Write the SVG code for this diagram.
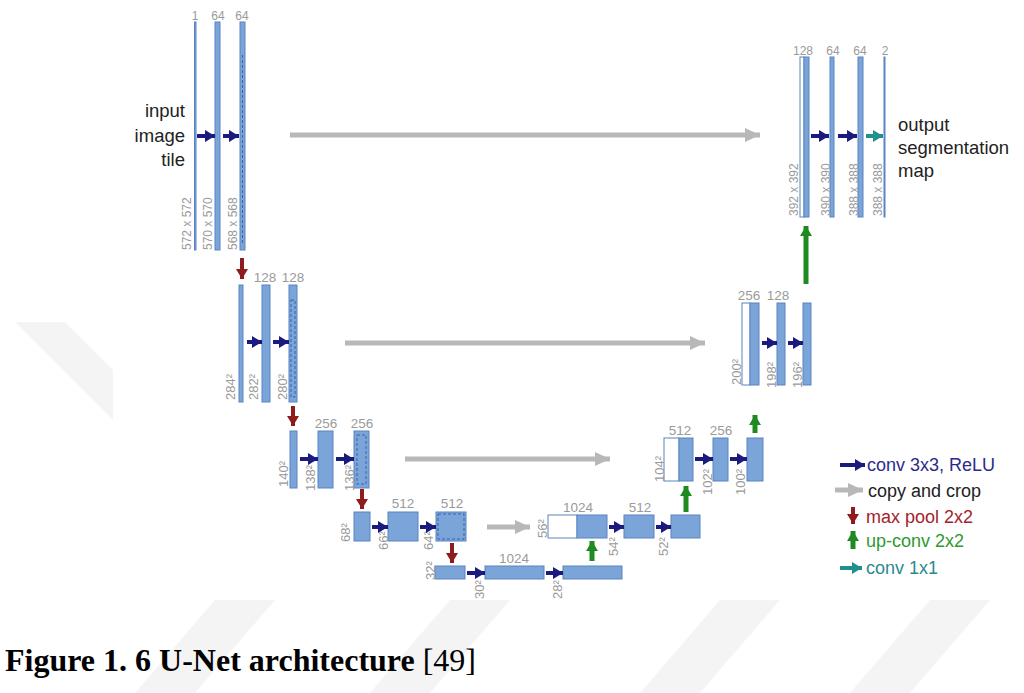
<svg xmlns="http://www.w3.org/2000/svg" width="1024" height="693" viewBox="0 0 1024 693">
<style>
.bar{fill:#7ba4d8;stroke:#5a84c2;stroke-width:1}
.wbox{fill:#ffffff;stroke:#5a84c2;stroke-width:1}
.dot{fill:none;stroke:#3a62a6;stroke-width:1;stroke-dasharray:3 2}
.num{font-family:"Liberation Sans",Arial,sans-serif;font-size:13.5px;fill:#9a9a9a;text-anchor:middle}
.num1{font-family:"Liberation Sans",Arial,sans-serif;font-size:12px;fill:#9a9a9a;text-anchor:middle}
.dim{font-family:"Liberation Sans",Arial,sans-serif;font-size:12px;fill:#9a9a9a}
.sq{font-family:"Liberation Sans",Arial,sans-serif;font-size:13px;fill:#9a9a9a}
.lbl{font-family:"Liberation Sans",Arial,sans-serif;font-size:18.5px;fill:#222}
.leg{font-family:"Liberation Sans",Arial,sans-serif;font-size:18px}
.conv{stroke:#1b1b7d;stroke-width:4;marker-end:url(#hNavy)}
.copy{stroke:#b8b8b8;stroke-width:5;marker-end:url(#hGray)}
.pool{stroke:#8e1c1c;stroke-width:4;marker-end:url(#hRed)}
.up{stroke:#1f8a1f;stroke-width:5;marker-end:url(#hGreen)}
.c11{stroke:#20908f;stroke-width:4;marker-end:url(#hTeal)}
.wm{fill:#f4f4f4}
</style>
<defs>
<marker id="hNavy" markerUnits="userSpaceOnUse" markerWidth="10" markerHeight="12" viewBox="0 0 10 12" refX="10" refY="6" orient="auto"><path d="M0,0 L10,6 L0,12 z" fill="#1b1b7d"/></marker>
<marker id="hGray" markerUnits="userSpaceOnUse" markerWidth="15" markerHeight="14" viewBox="0 0 15 14" refX="15" refY="7" orient="auto"><path d="M0,0 L15,7 L0,14 z" fill="#b8b8b8"/></marker>
<marker id="hRed" markerUnits="userSpaceOnUse" markerWidth="10" markerHeight="12" viewBox="0 0 10 12" refX="10" refY="6" orient="auto"><path d="M0,0 L10,6 L0,12 z" fill="#8e1c1c"/></marker>
<marker id="hGreen" markerUnits="userSpaceOnUse" markerWidth="10" markerHeight="12" viewBox="0 0 10 12" refX="10" refY="6" orient="auto"><path d="M0,0 L10,6 L0,12 z" fill="#1f8a1f"/></marker>
<marker id="hTeal" markerUnits="userSpaceOnUse" markerWidth="10" markerHeight="12" viewBox="0 0 10 12" refX="10" refY="6" orient="auto"><path d="M0,0 L10,6 L0,12 z" fill="#20908f"/></marker>
</defs>
<rect width="1024" height="693" fill="#ffffff"/>
<g id="watermark">
<polygon class="wm" points="15,322 65,322 113,370 113,420"/>
<polygon class="wm" points="215,600 275,600 195,693 135,693"/>
<polygon class="wm" points="450,600 510,600 430,693 370,693"/>
<polygon class="wm" points="720,600 780,600 700,693 640,693"/>
<polygon class="wm" points="930,600 990,600 910,693 850,693"/>
</g>

<g id="level1-left">
<rect class="bar" x="194.5" y="22" width="1.5" height="228"/>
<rect class="bar" x="215" y="22" width="5" height="228"/>
<rect class="bar" x="240" y="22" width="5" height="228"/>
<line class="dot" x1="242.5" y1="55" x2="242.5" y2="245"/>
<text class="num1" x="195" y="20">1</text>
<text class="num1" x="218" y="20">64</text>
<text class="num1" x="242" y="20">64</text>
<text class="dim" transform="translate(191,250) rotate(-90)">572 x 572</text>
<text class="dim" transform="translate(212,250) rotate(-90)">570 x 570</text>
<text class="dim" transform="translate(237,250) rotate(-90)">568 x 568</text>
<text class="lbl" x="185" y="117" text-anchor="end">input</text>
<text class="lbl" x="185" y="142" text-anchor="end">image</text>
<text class="lbl" x="185" y="166" text-anchor="end">tile</text>
</g>

<g id="level1-right">
<rect class="wbox" x="800" y="57" width="4" height="160"/>
<rect class="bar" x="804" y="57" width="5" height="160"/>
<rect class="bar" x="830" y="57" width="4" height="160"/>
<rect class="bar" x="858" y="57" width="5" height="160"/>
<rect class="bar" x="884" y="57" width="1" height="160"/>
<text class="num1" x="803" y="55">128</text>
<text class="num1" x="833" y="55">64</text>
<text class="num1" x="860" y="55">64</text>
<text class="num1" x="885" y="55">2</text>
<text class="dim" transform="translate(798,216) rotate(-90)">392 x 392</text>
<text class="dim" transform="translate(830,216) rotate(-90)">390 x 390</text>
<text class="dim" transform="translate(858,216) rotate(-90)">388 x 388</text>
<text class="dim" transform="translate(882,216) rotate(-90)">388 x 388</text>
<text class="lbl" x="898" y="131">output</text>
<text class="lbl" x="898" y="154">segmentation</text>
<text class="lbl" x="898" y="177">map</text>
</g>

<g id="level2-left">
<rect class="bar" x="239" y="285" width="4" height="117"/>
<rect class="bar" x="262" y="285" width="8" height="117"/>
<rect class="bar" x="289" y="285" width="8" height="117"/>
<rect class="dot" x="291" y="300" width="4" height="97"/>
<text class="num" x="265" y="282">128</text>
<text class="num" x="293" y="282">128</text>
<text class="sq" transform="translate(235,400) rotate(-90)">284²</text>
<text class="sq" transform="translate(258,400) rotate(-90)">282²</text>
<text class="sq" transform="translate(287,400) rotate(-90)">280²</text>
</g>

<g id="level2-right">
<rect class="wbox" x="742" y="303" width="8" height="82"/>
<rect class="bar" x="750" y="303" width="9" height="82"/>
<rect class="bar" x="777" y="303" width="8" height="82"/>
<rect class="bar" x="803" y="303" width="8" height="82"/>
<text class="num" x="749" y="300">256</text>
<text class="num" x="778" y="300">128</text>
<text class="sq" transform="translate(741,385) rotate(-90)">200²</text>
<text class="sq" transform="translate(776,388) rotate(-90)">198²</text>
<text class="sq" transform="translate(802,388) rotate(-90)">196²</text>
</g>

<g id="level3-left">
<rect class="bar" x="290" y="431" width="7" height="57"/>
<rect class="bar" x="318" y="431" width="15" height="57"/>
<rect class="bar" x="354" y="431" width="15" height="57"/>
<rect class="dot" x="357" y="435" width="9" height="49"/>
<text class="num" x="326" y="428">256</text>
<text class="num" x="362" y="428">256</text>
<text class="sq" transform="translate(288,487) rotate(-90)">140²</text>
<text class="sq" transform="translate(315,491) rotate(-90)">138²</text>
<text class="sq" transform="translate(354,491) rotate(-90)">136²</text>
</g>

<g id="level3-right">
<rect class="wbox" x="664" y="438" width="15" height="43"/>
<rect class="bar" x="679" y="438" width="14" height="43"/>
<rect class="bar" x="713" y="438" width="15" height="43"/>
<rect class="bar" x="747" y="438" width="16" height="43"/>
<text class="num" x="680" y="435">512</text>
<text class="num" x="721" y="435">256</text>
<text class="sq" transform="translate(664,482) rotate(-90)">104²</text>
<text class="sq" transform="translate(712,495) rotate(-90)">102²</text>
<text class="sq" transform="translate(745,495) rotate(-90)">100²</text>
</g>

<g id="level4-left">
<rect class="bar" x="354" y="512" width="16" height="29"/>
<rect class="bar" x="388" y="512" width="30" height="29"/>
<rect class="bar" x="436" y="512" width="30" height="29"/>
<rect class="dot" x="438" y="514" width="26" height="25"/>
<text class="num" x="403" y="508">512</text>
<text class="num" x="452" y="508">512</text>
<text class="sq" transform="translate(350,542) rotate(-90)">68²</text>
<text class="sq" transform="translate(388,550) rotate(-90)">66²</text>
<text class="sq" transform="translate(433,550) rotate(-90)">64²</text>
</g>

<g id="level4-right">
<rect class="wbox" x="548" y="515" width="29" height="23"/>
<rect class="bar" x="577" y="515" width="30" height="23"/>
<rect class="bar" x="624" y="515" width="30" height="23"/>
<rect class="bar" x="671" y="515" width="29" height="23"/>
<text class="num" x="578" y="512">1024</text>
<text class="num" x="640" y="512">512</text>
<text class="sq" transform="translate(547,538) rotate(-90)">56²</text>
<text class="sq" transform="translate(618,556) rotate(-90)">54²</text>
<text class="sq" transform="translate(668,556) rotate(-90)">52²</text>
</g>

<g id="level5">
<rect class="bar" x="435" y="566" width="30" height="13"/>
<rect class="bar" x="485" y="566" width="59" height="13"/>
<rect class="bar" x="563" y="566" width="59" height="13"/>
<text class="num" x="514" y="563">1024</text>
<text class="sq" transform="translate(435,580) rotate(-90)">32²</text>
<text class="sq" transform="translate(484,599) rotate(-90)">30²</text>
<text class="sq" transform="translate(562,599) rotate(-90)">28²</text>
</g>

<g id="connectors">
<line class="conv" x1="197" y1="136" x2="215" y2="136"/>
<line class="conv" x1="223" y1="136" x2="239" y2="136"/>
<line class="conv" x1="811" y1="136" x2="829" y2="136"/>
<line class="conv" x1="838" y1="136" x2="857" y2="136"/>
<line class="c11" x1="866" y1="136" x2="883" y2="136"/>
<line class="conv" x1="247" y1="342" x2="262" y2="342"/>
<line class="conv" x1="273" y1="342" x2="289" y2="342"/>
<line class="conv" x1="762" y1="343" x2="777" y2="343"/>
<line class="conv" x1="788" y1="343" x2="803" y2="343"/>
<line class="conv" x1="300" y1="459" x2="318" y2="459"/>
<line class="conv" x1="336" y1="459" x2="354" y2="459"/>
<line class="conv" x1="695" y1="459" x2="713" y2="459"/>
<line class="conv" x1="730" y1="459" x2="747" y2="459"/>
<line class="conv" x1="372" y1="527" x2="388" y2="527"/>
<line class="conv" x1="420" y1="527" x2="436" y2="527"/>
<line class="conv" x1="609" y1="527" x2="624" y2="527"/>
<line class="conv" x1="656" y1="527" x2="671" y2="527"/>
<line class="conv" x1="467" y1="573" x2="485" y2="573"/>
<line class="conv" x1="546" y1="573" x2="563" y2="573"/>
<line class="copy" x1="290" y1="135" x2="760" y2="135"/>
<line class="copy" x1="345" y1="343" x2="705" y2="343"/>
<line class="copy" x1="405" y1="459" x2="610" y2="459"/>
<line class="copy" x1="487" y1="527" x2="530" y2="527"/>
<line class="pool" x1="242" y1="258" x2="242" y2="279"/>
<line class="pool" x1="293" y1="406" x2="293" y2="426"/>
<line class="pool" x1="362" y1="489" x2="362" y2="509"/>
<line class="pool" x1="452" y1="543" x2="452" y2="563"/>
<line class="up" x1="592" y1="561" x2="592" y2="541"/>
<line class="up" x1="686" y1="512" x2="686" y2="486"/>
<line class="up" x1="755" y1="433" x2="755" y2="415"/>
<line class="up" x1="806" y1="284" x2="806" y2="226"/>
</g>

<g id="legend">
<line class="conv" x1="840" y1="465" x2="865" y2="465"/>
<text class="leg" x="867" y="471" fill="#2b2b8c">conv 3x3, ReLU</text>
<line class="copy" x1="835" y1="490" x2="863" y2="490"/>
<text class="leg" x="868" y="497" fill="#222222">copy and crop</text>
<line class="pool" x1="853" y1="507" x2="853" y2="524"/>
<text class="leg" x="866" y="523" fill="#a3232c">max pool 2x2</text>
<line class="up" x1="853" y1="549" x2="853" y2="531"/>
<text class="leg" x="866" y="547" fill="#2e9a2e">up-conv 2x2</text>
<line class="c11" x1="840" y1="568" x2="862" y2="568"/>
<text class="leg" x="866" y="574" fill="#2a8a8f">conv 1x1</text>
</g>

<g id="caption">
<text x="5" y="671" font-family="'Liberation Serif','Times New Roman',serif" font-size="32" fill="#000"><tspan font-weight="bold">Figure 1. 6 U-Net architecture </tspan><tspan>[49]</tspan></text>
</g>
</svg>
